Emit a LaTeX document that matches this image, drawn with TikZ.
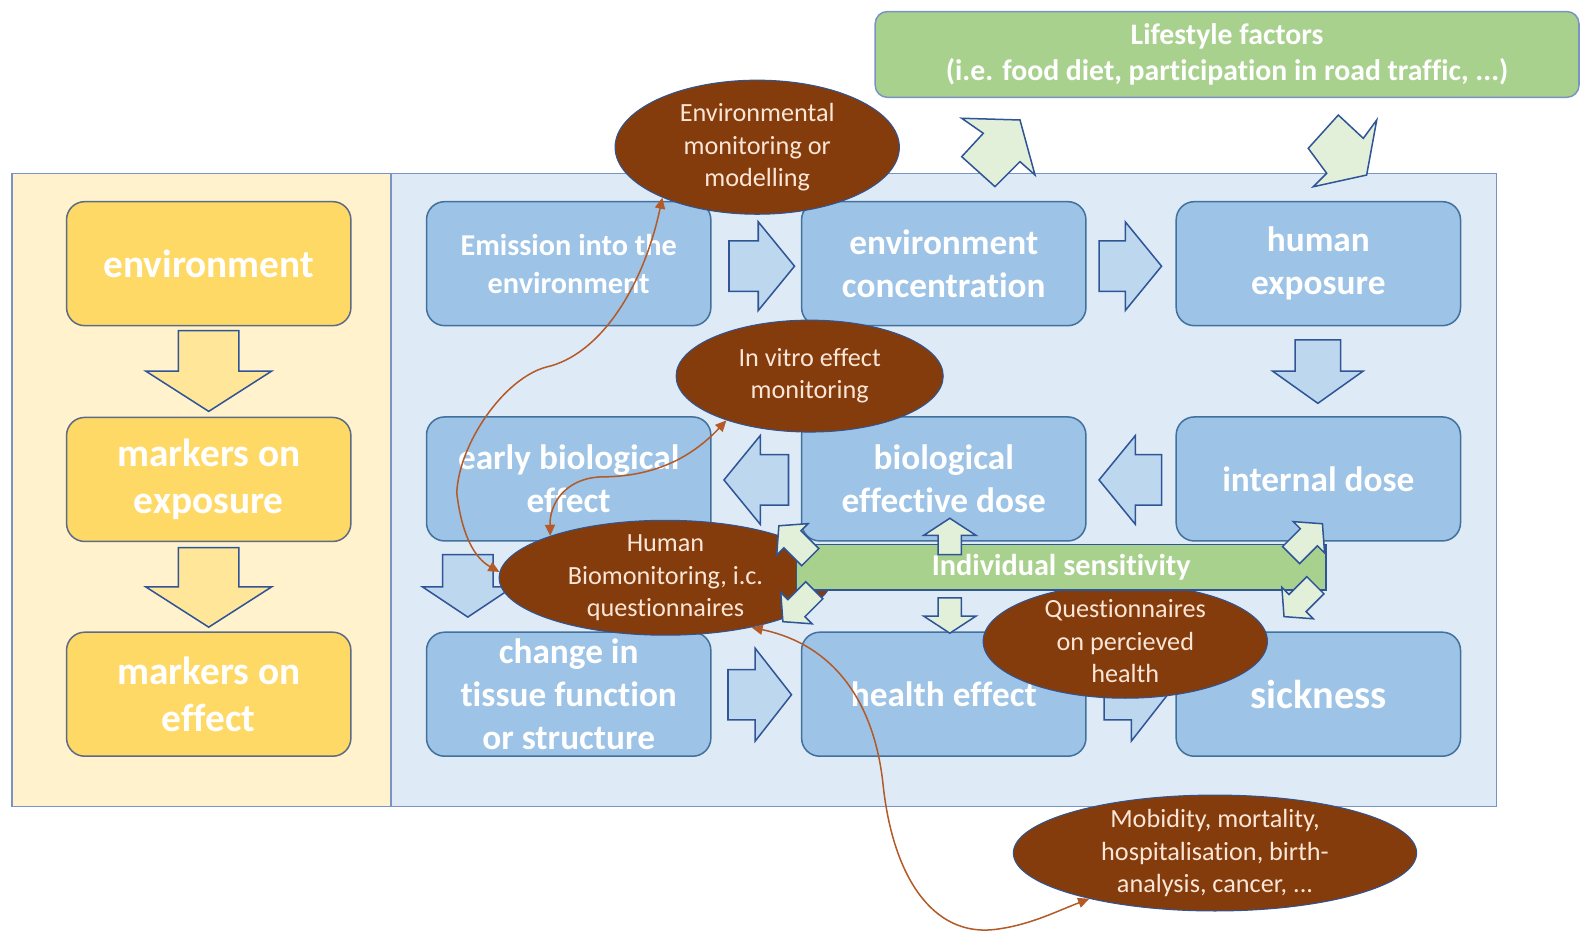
\documentclass[tikz,border=0pt]{standalone}
\usepackage{fontspec}
\setmainfont{Carlito}[Ligatures=NoCommon]
\usetikzlibrary{shapes.geometric,arrows.meta}
\definecolor{ypanel}{HTML}{FFF2CC}
\definecolor{bpanel}{HTML}{DEEBF7}
\definecolor{panelline}{HTML}{7A93C2}
\definecolor{yboxc}{HTML}{FFD966}
\definecolor{ylinec}{HTML}{5E6B86}
\definecolor{yarrowc}{HTML}{FFE699}
\definecolor{bboxc}{HTML}{9DC3E6}
\definecolor{blinec}{HTML}{41719C}
\definecolor{barrowc}{HTML}{BDD7EE}
\definecolor{alinec}{HTML}{2F5597}
\definecolor{gboxc}{HTML}{A9D18E}
\definecolor{garrowc}{HTML}{E2F0D9}
\definecolor{brownc}{HTML}{843C0C}
\definecolor{etextc}{HTML}{FBE5D6}
\definecolor{curvec}{HTML}{B45A28}
\newcommand{\blkarr}[8]{%
  \path[#1,shift={(#2,#3)},rotate=#4]
   ({-(#5)/2},{-(#7)/2}) -- ({(#5)/2-(#8)},{-(#7)/2}) -- ({(#5)/2-(#8)},{-(#6)/2})
   -- ({(#5)/2},0) -- ({(#5)/2-(#8)},{(#6)/2}) -- ({(#5)/2-(#8)},{(#7)/2})
   -- ({-(#5)/2},{(#7)/2}) -- cycle;}
\begin{document}
\begin{tikzpicture}[x=1pt,y=-1pt,
  panel/.style={draw=panelline,line width=1.5pt},
  ybox/.style={rectangle,rounded corners=18pt,draw=ylinec,line width=1.5pt,fill=yboxc,
    minimum width=282pt,minimum height=123pt,inner sep=0pt,align=center,text=white,
    font=\bfseries\fontsize{39}{47}\selectfont},
  bbox/.style={rectangle,rounded corners=18pt,draw=blinec,line width=1.5pt,fill=bboxc,
    minimum width=282pt,minimum height=123pt,inner sep=0pt,align=center,text=white,
    font=\bfseries\fontsize{35}{43}\selectfont},
  ell/.style={ellipse,fill=brownc,draw=alinec,line width=1pt,text=etextc,align=center,
    inner xsep=0pt,inner ysep=-16pt,font=\fontsize{26}{32}\selectfont},
  yarr/.style={fill=yarrowc,draw=alinec,line width=1.5pt},
  barr/.style={fill=barrowc,draw=alinec,line width=1.5pt},
  garr/.style={fill=garrowc,draw=alinec,line width=1.5pt},
  crv/.style={draw=curvec,line width=1.5pt,>={Triangle[length=11pt,width=10pt]},<->},
]
\useasboundingbox (0,0) rectangle (1568,928);
% panels
\path[panel,fill=ypanel] (12,172) rectangle (388,800);
\path[panel,fill=bpanel] (388,172) rectangle (1484,800);
% lifestyle
\node[rectangle,rounded corners=12pt,draw=panelline,line width=1.5pt,fill=gboxc,
  minimum width=698pt,minimum height=85pt,inner sep=0pt,align=center,text=white,
  font=\bfseries\fontsize{29.5}{36}\selectfont] (life) at (1217,54)
  {Lifestyle factors\\(i.e. food diet, participation in road traffic, ...)};
% yellow column
\node[ybox] (yenv) at (207,261.5) {environment};
\node[ybox] (yexp) at (207,475.5) {markers on\\exposure};
\node[ybox] (yeff) at (207,688.5) {markers on\\effect};
\blkarr{yarr}{207}{368}{-90}{80}{125}{60}{40}
\blkarr{yarr}{207}{582.5}{-90}{79}{125}{60}{40}
% blue boxes
\node[bbox,font=\bfseries\fontsize{30}{38}\selectfont] (emis) at (564,261.5) {Emission into the\\environment};
\node[bbox] (envc) at (936,261.5) {environment\\concentration};
\node[bbox] (hexp) at (1307.5,261.5) {human\\exposure};
\node[bbox] (ebio) at (564,475) {early biological\\effect};
\node[bbox] (bdose) at (936,475) {biological\\effective dose};
\node[bbox] (idose) at (1307.5,475) {internal dose};
\node[bbox] (tissue) at (564,688.5) {change in\\tissue function\\or structure};
\node[bbox] (heff) at (936,688.5) {health effect};
\node[bbox,font=\bfseries\fontsize{40}{46}\selectfont] (sick) at (1307.5,688.5) {sickness};
% blue block arrows
\blkarr{barr}{755.5}{264}{0}{65}{88}{50}{36}
\blkarr{barr}{1121}{264}{0}{62}{88}{50}{36}
\blkarr{barr}{1307}{368.5}{-90}{63}{90}{45}{32}
\blkarr{barr}{1121}{476}{180}{62}{88}{50}{36}
\blkarr{barr}{750}{476}{180}{64}{88}{50}{36}
\blkarr{barr}{464}{581}{-90}{62}{90}{50}{30}
\blkarr{barr}{753.5}{689}{0}{63}{92}{50}{36}
\blkarr{barr}{1126.5}{689}{0}{63}{92}{50}{36}
% lifestyle arrows
\path[garr] (1011.6,119.0) -- (1026.5,173.6) -- (1011.6,160.3) -- (986.8,185.1)
  -- (953.8,155.4) -- (975.2,132.2) -- (953.8,117.3) -- cycle;
\path[garr] (1327.3,114.1) -- (1352.1,137.2) -- (1365.4,119.0) -- (1355.4,173.6)
  -- (1302.5,185.2) -- (1315.8,171.9) -- (1297.5,147.1) -- cycle;
% ellipses
\node[ell,minimum width=282pt,minimum height=133pt] (envm) at (751,146) {Environmental\\monitoring or\\modelling};
\node[ell,minimum width=265pt,minimum height=111pt] (invit) at (803,373) {In vitro effect\\monitoring};
\node[ell,minimum width=330pt,minimum height=114pt] (hbm) at (660,573) {Human\\Biomonitoring, i.c.\\questionnaires};
\node[ell,minimum width=282pt,minimum height=113pt] (quest) at (1116,636) {Questionnaires\\on percieved\\health};
\node[ell,minimum width=400pt,minimum height=115pt] (mob) at (1205,846) {Mobidity, mortality,\\hospitalisation, birth-\\analysis, cancer, ...};
% individual sensitivity
\node[rectangle,draw=alinec,line width=1.5pt,fill=gboxc,minimum width=525pt,minimum height=45pt,
  inner sep=0pt,text=white,font=\bfseries\fontsize{30}{36}\selectfont] (sens) at (1052.5,562.5) {Individual sensitivity};
\blkarr{garr}{942}{532}{90}{36}{52}{23}{17}
\blkarr{garr}{942}{610.5}{-90}{35}{52}{23}{17}
\blkarr{garr}{788}{537}{135}{44}{44}{24}{19}
\blkarr{garr}{792}{601}{-135}{44}{44}{24}{19}
\blkarr{garr}{1296}{535}{45}{44}{44}{24}{19}
\blkarr{garr}{1289}{596}{-135}{44}{44}{24}{19}
% connectors
\draw[crv] (envm.208) .. controls (638,285) and (595,352) .. (542,364)
  .. controls (500,375) and (455,440) .. (453,489)
  .. controls (458,530) and (470,553) .. (hbm.178);
\draw[crv] (invit.208) .. controls (680,460) and (640,473) .. (595,473)
  .. controls (560,475) and (545,500) .. (hbm.160);
\draw[crv] (hbm.-30) .. controls (830,640) and (868,700) .. (876,780)
  .. controls (886,870) and (925,928) .. (985,922)
  .. controls (1020,918) and (1045,905) .. (mob.200);
\end{tikzpicture}
\end{document}
